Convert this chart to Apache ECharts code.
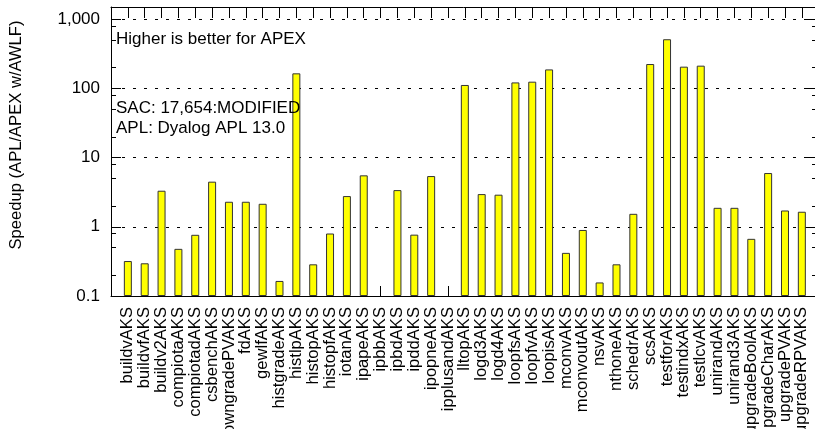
<!DOCTYPE html>
<html>
<head>
<meta charset="utf-8">
<script src="https://cdn.jsdelivr.net/npm/echarts@6/dist/echarts.min.js"></script>
<style>
html,body{margin:0;padding:0;background:#fff;}
#chart{width:815px;height:429px;}
</style>
</head>
<body>
<div id="chart"></div>
<script>
// ---- data ----
var categories = [
  'buildvAKS','buildvfAKS','buildv2AKS','compiotaAKS','compiotadAKS','csbenchAKS',
  'downgradePVAKS','fdAKS','gewlfAKS','histgradeAKS','histlpAKS','histopAKS',
  'histopfAKS','iotanAKS','ipapeAKS','ipbbAKS','ipbdAKS','ipddAKS','ipopneAKS',
  'ipplusandAKS','lltopAKS','logd3AKS','logd4AKS','loopfsAKS','loopfvAKS',
  'loopisAKS','mconvAKS','mconvoutAKS','nsvAKS','nthoneAKS','schedrAKS','scsAKS',
  'testforAKS','testindxAKS','testlcvAKS','unirandAKS','unirand3AKS',
  'upgradeBoolAKS','upgradeCharAKS','upgradePVAKS','upgradeRPVAKS'
];
var speedup = [
  0.32, 0.297, 3.32, 0.48, 0.766, 4.49,
  2.30, 2.30, 2.15, 0.165, 165, 0.287,
  0.80, 2.78, 5.54, null, 3.39, 0.77, 5.41,
  null, 112, 2.97, 2.91, 122, 125,
  188, 0.42, 0.90, 0.157, 0.287, 1.54, 225,
  513, 206, 213, 1.88, 1.88,
  0.67, 5.98, 1.72, 1.65
];
var yMajorTicks = [0.1, 1, 10, 100, 1000];
var yTickLabels = ['0.1', '1', '10', '100', '1,000'];
var yMinorTicks = [0.2, 0.5, 0.8, 2, 5, 8, 20, 50, 80, 200, 500, 800];
var yName = 'Speedup (APL/APEX w/AWLF)';
var notes = ['Higher is better for APEX', 'SAC: 17,654:MODIFIED', 'APL: Dyalog APL 13.0'];

// ---- chart ----
var FONT = '"Liberation Sans", Arial, Helvetica, sans-serif';
var chart = echarts.init(document.getElementById('chart'), null, {renderer: 'canvas'});
var xMax = 41.9;
var yMin = 0.1, yMax = 1500;

function yAxisBase(extra) {
  var a = {
    type: 'log', logBase: 10, min: yMin, max: yMax,
    axisLine: {show: false, onZero: false},
    axisLabel: {show: false},
    axisTick: {show: false},
    splitLine: {show: false}
  };
  for (var k in extra) a[k] = extra[k];
  return a;
}

var option = {
  animation: false,
  backgroundColor: '#ffffff',
  grid: {left: 111, top: 7, width: 706, height: 289, containLabel: false, outerBoundsMode: 'none'},
  xAxis: [
    {
      type: 'value', min: 0, max: xMax, interval: 1, position: 'bottom',
      axisLine: {show: true, onZero: false, lineStyle: {color: '#000', width: 1}},
      axisTick: {show: true, inside: true, length: 10, lineStyle: {color: '#000'}},
      splitLine: {show: false},
      axisLabel: {
        show: true, rotate: 90, margin: 11, color: '#000',
        fontFamily: FONT, fontSize: 16.6,
        showMinLabel: true, showMaxLabel: true, hideOverlap: false,
        formatter: function (v) {
          var i = Math.round(v);
          if (Math.abs(v - i) > 1e-6) return '';
          return categories[i - 1] || '';
        }
      }
    },
    {
      type: 'value', min: 0, max: xMax, interval: 1, position: 'top',
      axisLine: {show: true, onZero: false, lineStyle: {color: '#000', width: 1}},
      axisTick: {show: true, inside: true, length: 11, lineStyle: {color: '#000'}},
      splitLine: {show: false},
      axisLabel: {show: false}
    }
  ],
  yAxis: [
    yAxisBase({
      position: 'left',
      startValue: yMin,
      axisLine: {show: true, onZero: false, lineStyle: {color: '#000', width: 1}},
      axisTick: {show: true, inside: true, length: 10, customValues: yMajorTicks, lineStyle: {color: '#000'}},
      axisLabel: {
        show: true, margin: 11, color: '#000', fontFamily: FONT, fontSize: 17,
        customValues: yMajorTicks,
        formatter: function (v) {
          for (var i = 0; i < yMajorTicks.length; i++) {
            if (Math.abs(Math.log10(v) - Math.log10(yMajorTicks[i])) < 1e-6) return yTickLabels[i];
          }
          return '';
        }
      },
      splitLine: {show: true, lineStyle: {color: '#000', width: 1, type: [3, 8]}}
    }),
    yAxisBase({
      position: 'left',
      axisTick: {show: true, inside: true, length: 5, customValues: yMinorTicks, lineStyle: {color: '#000'}}
    }),
    yAxisBase({
      position: 'right',
      axisLine: {show: true, onZero: false, lineStyle: {color: '#000', width: 1}},
      axisTick: {show: true, inside: true, length: 10, customValues: yMajorTicks, lineStyle: {color: '#000'}}
    }),
    yAxisBase({
      position: 'right',
      axisTick: {show: true, inside: true, length: 5, customValues: yMinorTicks, lineStyle: {color: '#000'}}
    })
  ],
  series: [
    {
      type: 'bar',
      xAxisIndex: 0, yAxisIndex: 0,
      barWidth: 8,
      itemStyle: {color: '#ffff00', borderColor: '#333', borderWidth: 1},
      data: categories.map(function (c, i) {
        return speedup[i] == null ? [i + 1, '-'] : [i + 1, speedup[i]];
      })
    }
  ],
  graphic: [
    {type: 'text', x: 116, y: 39, z: 100,
     style: {text: notes[0], fill: '#000', font: '17px ' + FONT, textAlign: 'left', textVerticalAlign: 'middle'}},
    {type: 'text', x: 116, y: 108, z: 100,
     style: {text: notes[1], fill: '#000', font: '17px ' + FONT, textAlign: 'left', textVerticalAlign: 'middle'}},
    {type: 'text', x: 116, y: 128, z: 100,
     style: {text: notes[2], fill: '#000', font: '17px ' + FONT, textAlign: 'left', textVerticalAlign: 'middle'}},
    {type: 'text', x: 16, y: 135, rotation: Math.PI / 2, z: 100,
     style: {text: yName, fill: '#000', font: '16.6px ' + FONT, textAlign: 'center', textVerticalAlign: 'middle'}}
  ]
};
chart.setOption(option);
</script>
</body>
</html>
